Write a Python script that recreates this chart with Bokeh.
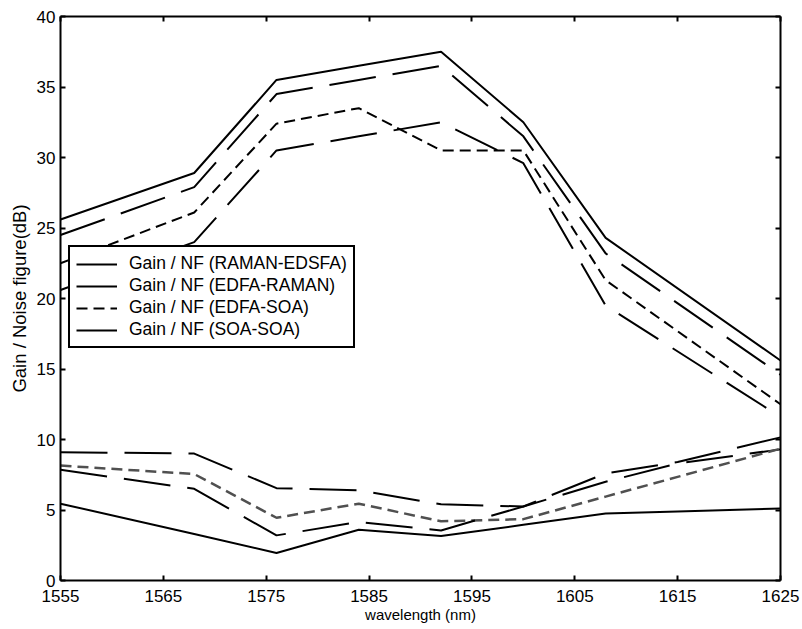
from bokeh.plotting import figure
from bokeh.models import Range1d, LinearAxis, FixedTicker, Legend, LegendItem
from bokeh.embed import file_html
from bokeh.resources import INLINE

# ---- data ----
wavelength_gain = [1555, 1568, 1576, 1584, 1592, 1600, 1608, 1625]
gain_raman_edsfa = [25.6, 28.9, 35.5, 36.5, 37.5, 32.5, 24.3, 15.6]
gain_edfa_raman = [24.5, 27.9, 34.5, 35.5, 36.5, 31.5, 23.2, 14.6]
gain_edfa_soa = [22.5, 26.1, 32.4, 33.5, 30.5, 30.5, 21.3, 12.5]
gain_soa_soa = [20.6, 24.0, 30.5, 31.5, 32.5, 29.6, 19.5, 11.6]

wavelength_nf = [1555, 1568, 1576, 1584, 1592, 1600, 1608, 1615, 1625]
nf_raman_edsfa = [5.45, 3.3, 1.95, 3.6, 3.15, 3.95, 4.75, 4.9, 5.1]
nf_edfa_raman = [9.1, 9.0, 6.55, 6.4, 5.4, 5.25, 7.0, 8.3, 9.3]
nf_edfa_soa = [8.15, 7.55, 4.45, 5.45, 4.2, 4.35, 5.95, 7.35, 9.35]
nf_soa_soa = [7.85, 6.5, 3.2, 4.15, 3.55, 5.25, 7.6, 8.4, 10.15]

legend_labels = ["Gain / NF (RAMAN-EDSFA)", "Gain / NF (EDFA-RAMAN)",
                 "Gain / NF (EDFA-SOA)", "Gain / NF (SOA-SOA)"]
x_ticks = [1555, 1565, 1575, 1585, 1595, 1605, 1615, 1625]
y_ticks = [0, 5, 10, 15, 20, 25, 30, 35, 40]

FONT = "Liberation Sans"

p = figure(width=802, height=629, output_backend="svg", toolbar_location=None,
           x_range=Range1d(1555, 1625), y_range=Range1d(0, 40),
           min_border_left=60, min_border_right=22, min_border_top=16,
           min_border_bottom=49)
p.outline_line_color = None
p.xgrid.visible = False
p.ygrid.visible = False
p.background_fill_color = "white"
p.border_fill_color = "white"

def style_axis(ax, ticks, show_labels):
    ax.ticker = FixedTicker(ticks=ticks)
    ax.major_tick_in = 5
    ax.major_tick_out = 0
    ax.minor_tick_line_color = None
    ax.axis_line_width = 2
    ax.axis_line_color = "black"
    ax.major_tick_line_width = 2
    ax.major_tick_line_color = "black"
    ax.major_label_text_font = FONT
    ax.major_label_text_font_size = "17px"
    ax.major_label_text_color = "black"
    ax.major_label_standoff = 5
    if not show_labels:
        ax.major_label_overrides = {t: "" for t in ticks}
        ax.major_label_standoff = 0

style_axis(p.xaxis[0], x_ticks, True)
style_axis(p.yaxis[0], y_ticks, True)
p.xaxis[0].axis_label = "wavelength (nm)"
p.yaxis[0].axis_label = "Gain / Noise figure(dB)"
for ax in (p.xaxis[0], p.yaxis[0]):
    ax.axis_label_text_font = FONT
    ax.axis_label_text_font_style = "normal"
    ax.axis_label_text_color = "black"
p.xaxis[0].axis_label_text_font_size = "15px"
p.yaxis[0].axis_label_text_font_size = "18.5px"
p.xaxis[0].axis_label_standoff = 1
p.yaxis[0].axis_label_standoff = 4
p.xaxis[0].major_label_standoff = 9

top_ax = LinearAxis()
style_axis(top_ax, x_ticks, False)
p.add_layout(top_ax, "above")
right_ax = LinearAxis()
style_axis(right_ax, y_ticks, False)
p.add_layout(right_ax, "right")

LONG = "47 17"
SHORT = "11 6"

r1 = p.line(wavelength_gain, gain_raman_edsfa, line_color="black", line_width=2)
r2 = p.line(wavelength_gain, gain_edfa_raman, line_color="black", line_width=2, line_dash=LONG)
r3 = p.line(wavelength_gain, gain_edfa_soa, line_color="black", line_width=2, line_dash=SHORT)
r4 = p.line(wavelength_gain, gain_soa_soa, line_color="black", line_width=2, line_dash=LONG)

n1 = p.line(wavelength_nf, nf_raman_edsfa, line_color="black", line_width=2)
n2 = p.line(wavelength_nf, nf_edfa_raman, line_color="black", line_width=2, line_dash=LONG)
n3 = p.line(wavelength_nf, nf_edfa_soa, line_color="#505050", line_width=2.5, line_dash=SHORT)
n4 = p.line(wavelength_nf, nf_soa_soa, line_color="black", line_width=2, line_dash=LONG)

legend = Legend(items=[LegendItem(label=legend_labels[0], renderers=[r1]),
                       LegendItem(label=legend_labels[1], renderers=[r2]),
                       LegendItem(label=legend_labels[2], renderers=[r3]),
                       LegendItem(label=legend_labels[3], renderers=[r4])],
                location=(8, 232))
legend.label_text_font = FONT
legend.label_text_font_size = "17.5px"
legend.label_text_color = "black"
legend.glyph_width = 41
legend.glyph_height = 20
legend.label_height = 20
legend.label_standoff = 12
legend.spacing = 1
legend.padding = 6
legend.margin = 0
legend.border_line_color = "black"
legend.border_line_alpha = 1.0
legend.border_line_width = 2
legend.background_fill_color = "white"
legend.background_fill_alpha = 1.0
p.add_layout(legend)

open("out.html", "w").write(file_html(p, INLINE))
